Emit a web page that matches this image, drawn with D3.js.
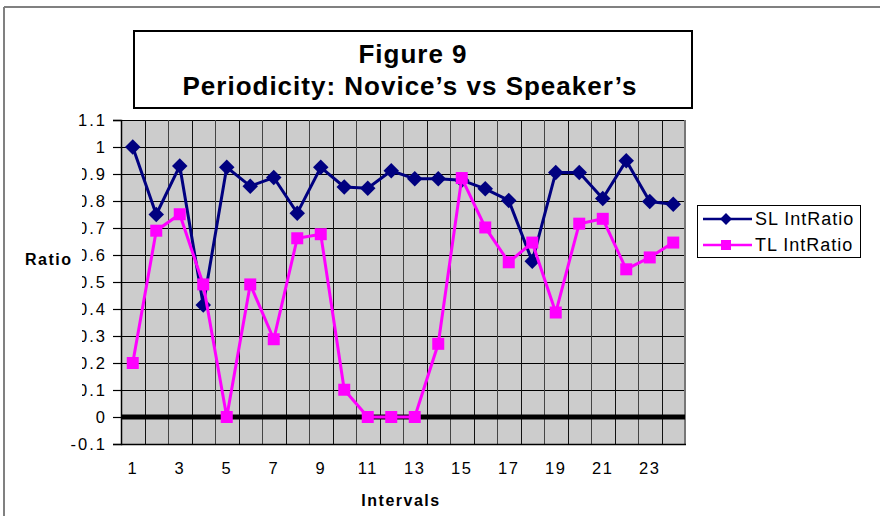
<!DOCTYPE html>
<html>
<head>
<meta charset="utf-8">
<script src="https://cdn.jsdelivr.net/npm/d3@7/dist/d3.min.js"></script>
<style>
  body { margin: 0; background: #fff; }
  svg { display: block; font-family: "Liberation Sans", Arial, sans-serif; }
</style>
</head>
<body>
<svg id="chart" width="880" height="516"></svg>
<script>
// intervals on the x axis
var intervals = [1, 2, 3, 4, 5, 6, 7, 8, 9, 10, 11, 12, 13, 14, 15, 16, 17, 18, 19, 20, 21, 22, 23, 24];
var xTickLabels = [1, 3, 5, 7, 9, 11, 13, 15, 17, 19, 21, 23];
var yTicks = [-0.1, 0, 0.1, 0.2, 0.3, 0.4, 0.5, 0.6, 0.7, 0.8, 0.9, 1, 1.1];

var slRatio = [1.0, 0.75, 0.93, 0.415, 0.925, 0.855, 0.887, 0.755, 0.925, 0.852, 0.847, 0.912,
               0.882, 0.882, 0.877, 0.845, 0.802, 0.577, 0.906, 0.906, 0.809, 0.949, 0.798, 0.788];
var tlRatio = [0.2, 0.69, 0.751, 0.491, 0.0, 0.491, 0.288, 0.662, 0.677, 0.101, 0.0, 0.0,
               0.0, 0.271, 0.885, 0.702, 0.573, 0.646, 0.387, 0.716, 0.734, 0.547, 0.591, 0.646];

var seriesNames = ["SL IntRatio", "TL IntRatio"];

(function () {
  var svg = d3.select("#chart");

  var pLeft = 121, pRight = 685, pTop = 120, pBottom = 444;

  var x = d3.scaleBand().domain(intervals).range([pLeft, pRight]).padding(0);
  var y = d3.scaleLinear().domain([-0.1, 1.1]).range([pBottom, pTop]);

  function cx(d) { return x(d) + x.bandwidth() / 2; }

  // chart area border (top and left only show)
  svg.append("line").attr("x1", 4).attr("x2", 880).attr("y1", 7).attr("y2", 7)
    .attr("stroke", "#808080").attr("stroke-width", 2);
  svg.append("line").attr("x1", 4).attr("x2", 4).attr("y1", 7).attr("y2", 516)
    .attr("stroke", "#808080").attr("stroke-width", 2);

  // title box
  svg.append("rect").attr("x", 134).attr("y", 31).attr("width", 558).attr("height", 77)
    .attr("fill", "#fff").attr("stroke", "#000").attr("stroke-width", 2);
  var title = svg.append("text").attr("text-anchor", "middle")
    .attr("font-weight", "bold").attr("font-size", 26).attr("letter-spacing", 1)
    .attr("fill", "#000");
  title.append("tspan").attr("x", 413).attr("y", 63).text("Figure 9");
  title.append("tspan").attr("x", 410).attr("y", 95).text("Periodicity: Novice\u2019s vs Speaker\u2019s");

  // plot area
  svg.append("rect").attr("x", pLeft).attr("y", pTop).attr("width", pRight - pLeft).attr("height", pBottom - pTop)
    .attr("fill", "#cccccc");

  var grid = svg.append("g").attr("class", "grid").attr("shape-rendering", "crispEdges");
  grid.selectAll(".hgrid").data(yTicks).enter().append("line")
    .attr("class", "hgrid")
    .attr("x1", pLeft).attr("x2", pRight)
    .attr("y1", function (d) { return Math.round(y(d)) + 0.5; })
    .attr("y2", function (d) { return Math.round(y(d)) + 0.5; })
    .attr("stroke", "#000").attr("stroke-width", 1);
  grid.selectAll(".vgrid").data(intervals.concat([null])).enter().append("line")
    .attr("class", "vgrid")
    .attr("x1", function (d, i) { return Math.round(pLeft + i * x.bandwidth()) + 0.5; })
    .attr("x2", function (d, i) { return Math.round(pLeft + i * x.bandwidth()) + 0.5; })
    .attr("y1", pTop).attr("y2", pBottom)
    .attr("stroke", function (d, i) { return i % 2 ? "#111" : "#444"; }).attr("stroke-width", 1);

  // plot border: right side grey, bottom black
  svg.append("line").attr("x1", pRight).attr("x2", pRight).attr("y1", pTop).attr("y2", pBottom + 1)
    .attr("stroke", "#777").attr("stroke-width", 2);
  svg.append("line").attr("x1", pLeft).attr("x2", pRight + 1).attr("y1", pBottom + 0.5).attr("y2", pBottom + 0.5)
    .attr("stroke", "#000").attr("stroke-width", 1.5);

  // y axis
  var yAxis = svg.append("g").attr("transform", "translate(" + pLeft + ",0)")
    .call(d3.axisLeft(y).tickValues(yTicks).tickSize(8).tickPadding(6)
      .tickFormat(function (d) { return String(+d.toFixed(1)); }));
  yAxis.select(".domain").attr("stroke", "#000").attr("stroke-width", 1.5);
  yAxis.selectAll(".tick line").attr("stroke", "#000").attr("stroke-width", 1.2);
  yAxis.selectAll(".tick text")
    .attr("font-family", "'Liberation Sans', Arial, sans-serif")
    .attr("font-size", 16.5).attr("letter-spacing", 2).attr("fill", "#000");

  // the left digit of the fractional labels is cut in the original
  svg.append("clipPath").attr("id", "labclip").append("rect")
    .attr("x", 82 - pLeft).attr("y", -600).attr("width", 200).attr("height", 1200);
  yAxis.selectAll(".tick").filter(function (d) { return d > 0 && d < 1; })
    .select("text").attr("clip-path", "url(#labclip)");

  // x axis labels along the bottom
  var xAxis = svg.append("g").attr("transform", "translate(0," + pBottom + ")")
    .call(d3.axisBottom(x).tickValues(xTickLabels).tickSize(0).tickPadding(18));
  xAxis.select(".domain").remove();
  xAxis.selectAll(".tick text")
    .attr("font-family", "'Liberation Sans', Arial, sans-serif")
    .attr("font-size", 16.5).attr("letter-spacing", 1.5).attr("fill", "#000");

  // category axis crossing at zero
  svg.append("line").attr("x1", pLeft).attr("x2", pRight).attr("y1", y(0)).attr("y2", y(0))
    .attr("stroke", "#000").attr("stroke-width", 5);

  // axis titles
  svg.append("text").attr("x", 25).attr("y", 265).attr("font-weight", "bold")
    .attr("font-size", 16).attr("letter-spacing", 1.5).text("Ratio");
  svg.append("text").attr("x", 401).attr("y", 506).attr("text-anchor", "middle").attr("font-weight", "bold")
    .attr("font-size", 16).attr("letter-spacing", 1.5).text("Intervals");

  // series
  var line = d3.line()
    .x(function (d, i) { return cx(intervals[i]); })
    .y(function (d) { return y(d); });

  var diamond = d3.symbol().type(d3.symbolSquare).size(120);

  svg.append("path").datum(slRatio).attr("d", line)
    .attr("fill", "none").attr("stroke", "#000080").attr("stroke-width", 3);
  svg.selectAll(".sl").data(slRatio).enter().append("path")
    .attr("class", "sl")
    .attr("d", diamond)
    .attr("transform", function (d, i) { return "translate(" + cx(intervals[i]) + "," + y(d) + ") rotate(45)"; })
    .attr("fill", "#000080");

  svg.append("path").datum(tlRatio).attr("d", line)
    .attr("fill", "none").attr("stroke", "#ff00ff").attr("stroke-width", 3);
  svg.selectAll(".tl").data(tlRatio).enter().append("rect")
    .attr("class", "tl")
    .attr("x", function (d, i) { return cx(intervals[i]) - 6; })
    .attr("y", function (d) { return y(d) - 6; })
    .attr("width", 12).attr("height", 12)
    .attr("fill", "#ff00ff");

  // legend
  var legend = svg.append("g").attr("transform", "translate(697,205)");
  legend.append("rect").attr("x", 0.5).attr("y", 0.5).attr("width", 163).attr("height", 52)
    .attr("fill", "#fff").attr("stroke", "#000").attr("stroke-width", 1);
  var colors = ["#000080", "#ff00ff"];
  var rows = legend.selectAll(".row").data(seriesNames).enter().append("g")
    .attr("class", "row")
    .attr("transform", function (d, i) { return "translate(0," + (14 + i * 26) + ")"; });
  rows.append("line").attr("x1", 6).attr("x2", 55).attr("y1", 0).attr("y2", 0)
    .attr("stroke", function (d, i) { return colors[i]; }).attr("stroke-width", 2.5);
  rows.append("path")
    .attr("d", function (d, i) { return i === 0 ? d3.symbol().type(d3.symbolSquare).size(70)() : "M-5,-5H5V5H-5Z"; })
    .attr("transform", function (d, i) { return "translate(29,0)" + (i === 0 ? " rotate(45)" : ""); })
    .attr("fill", function (d, i) { return colors[i]; });
  rows.append("text").attr("x", 58).attr("dy", "0.36em")
    .attr("font-size", 18).attr("letter-spacing", 1).text(function (d) { return d; });
})();
</script>
</body>
</html>
